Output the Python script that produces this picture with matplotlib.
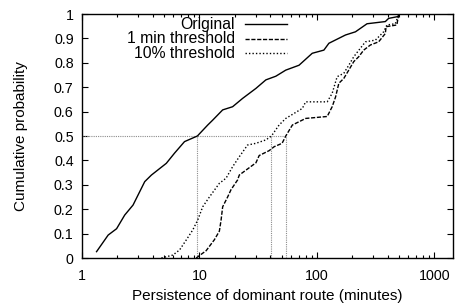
import matplotlib
matplotlib.use("Agg")
import matplotlib.pyplot as plt
import numpy as np

plt.rcParams['font.family'] = ['Liberation Sans', 'DejaVu Sans']
plt.rcParams['font.size'] = 10

# CDF of route persistence (minutes)
orig_x = [1.33, 1.67, 1.97, 2.31, 2.72, 3.42, 3.90, 5.22, 6.14, 7.46, 9.6, 11.76, 12.96,
          15.76, 19.15, 23.28, 30.23, 36.75, 44.67, 54.29, 70.4, 91.2, 114.6, 126.4,
          175.1, 212.8, 266.9, 382.1, 407.6, 495.4, 503]
orig_y = [0.026, 0.094, 0.12, 0.176, 0.217, 0.313, 0.34, 0.388, 0.43, 0.477, 0.50, 0.545,
          0.565, 0.607, 0.62, 0.654, 0.695, 0.73, 0.745, 0.77, 0.79, 0.839, 0.852, 0.88,
          0.914, 0.927, 0.96, 0.969, 0.982, 0.99, 1.0]

min1_x = [9.38, 11.4, 13.4, 14.77, 15.27, 15.76, 17.37, 18.56, 21.12, 21.83, 26.53, 30.23,
          32.25, 39.2, 43.2, 50.5, 54.3, 61.8, 80.2, 122.3, 134.8, 144.1, 153.6, 169.3,
          186.7, 205.9, 227.0, 250.2, 285.2, 335.3, 382.1, 388.0, 479.0, 495.4, 505]
min1_y = [0.0, 0.03, 0.075, 0.11, 0.155, 0.21, 0.25, 0.28, 0.32, 0.34, 0.37, 0.39, 0.42,
          0.44, 0.456, 0.47, 0.50, 0.545, 0.572, 0.58, 0.62, 0.66, 0.716, 0.736, 0.77,
          0.805, 0.825, 0.852, 0.873, 0.886, 0.92, 0.948, 0.955, 0.996, 1.0]

pct10_x = [4.74, 5.94, 6.77, 7.72, 8.77, 9.67, 10.66, 12.15, 14.77, 16.84, 19.15, 21.83,
           25.67, 30.23, 36.75, 41.0, 47.6, 54.3, 75.1, 80.2, 122.3, 134.8, 148.6, 169.3,
           186.7, 205.9, 234.6, 258.6, 314.5, 369.8, 394.3, 464.5, 495.4, 505]
pct10_y = [0.0, 0.012, 0.033, 0.074, 0.115, 0.156, 0.21, 0.25, 0.306, 0.327, 0.374, 0.415,
           0.463, 0.47, 0.484, 0.50, 0.545, 0.572, 0.613, 0.64, 0.64, 0.675, 0.743, 0.757,
           0.79, 0.825, 0.86, 0.886, 0.893, 0.927, 0.955, 0.96, 0.996, 1.0]

# medians (where each curve crosses 0.5)
medians = [9.6, 41.0, 54.3]
labels = ['Original', '1 min threshold', '10% threshold']
yticks = [0, 0.1, 0.2, 0.3, 0.4, 0.5, 0.6, 0.7, 0.8, 0.9, 1]
xticks = [1, 10, 100, 1000]

fig = plt.figure(figsize=(4.56, 3.03), dpi=100)
ax = fig.add_axes([82/456, 1-258/303, (453-82)/456, (258-14)/303])

# grey guide lines at the median
gcol = '#8c8c8c'
ax.plot([1, max(medians)], [0.5, 0.5], color=gcol, lw=0.8, ls=(0, (1, 1)))
for m in medians:
    ax.plot([m, m], [0, 0.5], color=gcol, lw=0.8, ls=(0, (1, 1)))

styles = ['-', (0, (3, 1.2)), (0, (1, 1.5))]
ax.plot(orig_x, orig_y, color='black', lw=1.0, ls=styles[0])
ax.plot(min1_x, min1_y, color='black', lw=1.0, ls=styles[1])
ax.plot(pct10_x, pct10_y, color='black', lw=1.0, ls=styles[2])

ax.set_xscale('log')
ax.set_xlim(1, 1440)
ax.set_ylim(0, 1)
ax.set_xticks(xticks)
ax.set_xticklabels([str(t) for t in xticks])
ax.set_yticks(yticks)
ax.set_yticklabels(['%g' % t for t in yticks])
ax.tick_params(which='both', direction='in', top=True, right=True, width=0.8,
               labelsize=10.3)
ax.tick_params(which='major', length=4.5)
ax.tick_params(axis='x', which='major', pad=8)
ax.tick_params(axis='y', which='major', pad=6)
ax.tick_params(which='minor', length=2.5)
for s in ax.spines.values():
    s.set_linewidth(1.0)

ax.set_xlabel('Persistence of dominant route (minutes)', fontsize=11, labelpad=4)
ax.set_ylabel('Cumulative probability', fontsize=11, labelpad=19)

# gnuplot-style key: right-aligned text, sample on the right
key_y = [0.959, 0.898, 0.84]
for lab, st, ky in zip(labels, styles, key_y):
    ax.text(0.412, ky, lab, transform=ax.transAxes, ha='right', va='center', fontsize=11.3)
    ax.plot([0.439, 0.553], [ky, ky], transform=ax.transAxes, color='black', lw=1.0, ls=st)

fig.savefig('out.png', dpi=100)
